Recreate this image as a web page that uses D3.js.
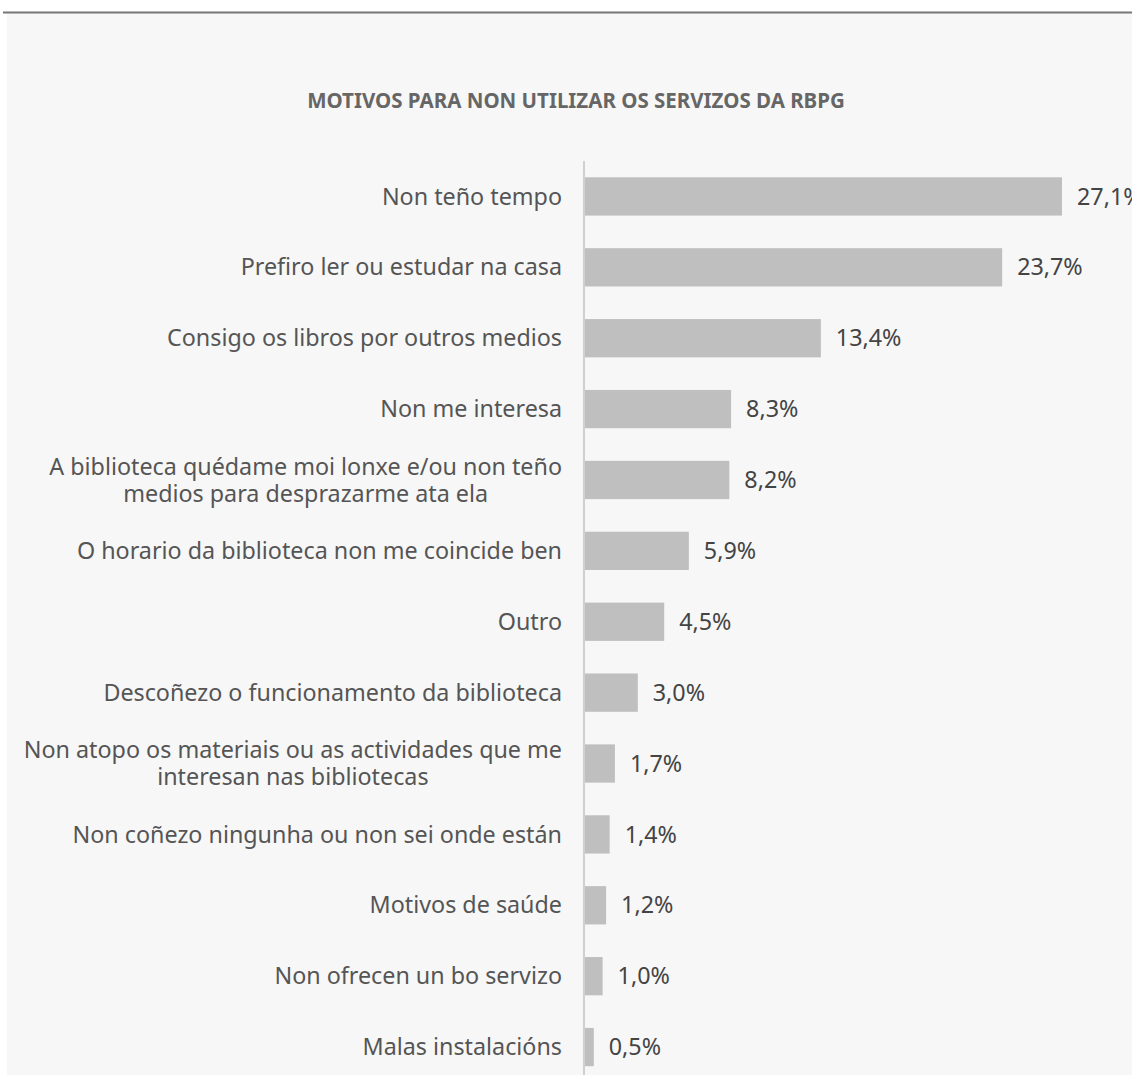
<!DOCTYPE html>
<html>
<head>
<meta charset="utf-8">
<script src="https://cdn.jsdelivr.net/npm/d3@7"></script>
<style>
  html, body { margin: 0; padding: 0; background: #fff; }
  svg { display: block; }
</style>
</head>
<body>
<div class="container"></div>
<script>
const title = 'MOTIVOS PARA NON UTILIZAR OS SERVIZOS DA RBPG'

// each category may hold two lines
const categories = [
  ['Non teño tempo'],
  ['Prefiro ler ou estudar na casa'],
  ['Consigo os libros por outros medios'],
  ['Non me interesa'],
  ['A biblioteca quédame moi lonxe e/ou non teño', 'medios para desprazarme ata ela'],
  ['O horario da biblioteca non me coincide ben'],
  ['Outro'],
  ['Descoñezo o funcionamento da biblioteca'],
  ['Non atopo os materiais ou as actividades que me', 'interesan nas bibliotecas'],
  ['Non coñezo ningunha ou non sei onde están'],
  ['Motivos de saúde'],
  ['Non ofrecen un bo servizo'],
  ['Malas instalacións']
]
const values = [27.1, 23.7, 13.4, 8.3, 8.2, 5.9, 4.5, 3.0, 1.7, 1.4, 1.2, 1.0, 0.5]

const width = 1132
const height = 1075
const marginLeft = 585
const plotTop = 161
const plotBottom = 1082.5
const labelRight = marginLeft - 23
const font = '"Noto Sans", sans-serif'

const rows = categories.map((c, i) => ({ label: c, value: values[i], key: i }))

const svg = d3.select('.container')
              .append('svg')
              .attr('width', width)
              .attr('height', height)

//Panel background and top rule
svg.append('rect')
   .attr('x', 7).attr('y', 13)
   .attr('width', width - 7).attr('height', height - 13)
   .attr('fill', '#f7f7f7')
svg.append('line')
   .attr('x1', 3).attr('x2', width)
   .attr('y1', 12.5).attr('y2', 12.5)
   .attr('stroke', '#777')
   .attr('stroke-width', 2)

//Title
svg.append('text')
   .attr('x', 576)
   .attr('y', 108)
   .attr('text-anchor', 'middle')
   .style('font-family', font)
   .style('font-weight', 'bold')
   .style('font-size', '20.5px')
   .style('fill', '#666')
   .text(title)

//Scales
const xScale = d3.scaleLinear()
                 .domain([0, 27.1])
                 .range([0, 477])

const yScale = d3.scaleBand()
                 .domain(rows.map(d => d.key))
                 .range([plotTop, plotBottom])
                 .paddingInner(0.46)
                 .paddingOuter(0.23)

//Bars
svg.append('g')
   .attr('transform', `translate(${marginLeft},0)`)
   .selectAll('rect')
   .data(rows)
   .enter()
   .append('rect')
   .attr('x', 0)
   .attr('y', d => yScale(d.key))
   .attr('width', d => xScale(d.value))
   .attr('height', yScale.bandwidth())
   .attr('fill', '#bfbfbf')

//Category axis
const yAxis = d3.axisLeft(yScale).tickSize(0).tickFormat('')
const axisG = svg.append('g')
   .attr('transform', `translate(${marginLeft - 1},0)`)
   .call(yAxis)
axisG.select('.domain')
   .attr('d', `M0,${plotTop}V${plotBottom}`)
   .attr('stroke', '#d0d0d0')
   .attr('stroke-width', 2)

//Category labels (multi-line ones are centred inside a right-aligned block)
const labels = svg.append('g')
   .selectAll('text')
   .data(rows)
   .enter()
   .append('text')
   .attr('y', d => yScale(d.key) + yScale.bandwidth() / 2)
   .attr('text-anchor', 'middle')
   .style('font-family', font)
   .style('font-size', '23.3px')
   .style('fill', '#555')

labels.each(function(d) {
  const text = d3.select(this)
  const spans = d.label.map((t, i) => text.append('tspan')
      .attr('dy', i === 0 ? `${0.35 - (d.label.length - 1) * 0.58}em` : '1.16em')
      .text(t))
  const maxW = d3.max(spans, s => s.node().getComputedTextLength())
  spans.forEach(s => s.attr('x', labelRight - maxW / 2))
})

//Value labels
svg.append('g')
   .selectAll('text')
   .data(rows)
   .enter()
   .append('text')
   .attr('x', d => marginLeft + xScale(d.value) + 15)
   .attr('y', d => yScale(d.key) + yScale.bandwidth() / 2)
   .attr('dy', '0.35em')
   .style('font-family', font)
   .style('font-size', '23.3px')
   .style('fill', '#444')
   .text(d => d3.format('.1f')(d.value).replace('.', ',') + '%')
</script>
</body>
</html>
